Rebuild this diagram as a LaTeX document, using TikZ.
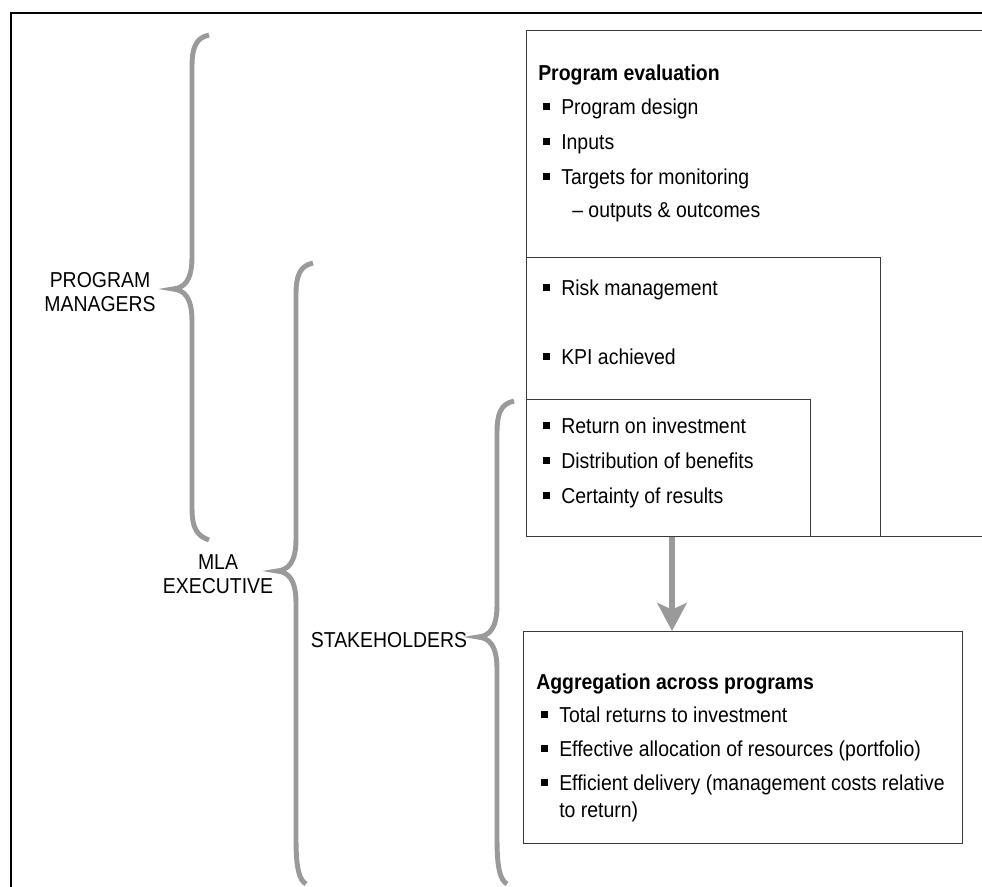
\documentclass[tikz,border=0pt]{standalone}
\usepackage{fontspec}
\setmainfont{Liberation Sans}[FakeStretch=0.9]
\usetikzlibrary{arrows.meta}
\definecolor{bracegray}{HTML}{9A9A9A}
\definecolor{edgegray}{HTML}{3A3A3A}
\tikzset{
  panel/.style={draw=edgegray, line width=1.1pt, inner sep=0pt, anchor=north west},
  txt/.style={inner sep=0pt, anchor=base west, font=\fontsize{16.2pt}{19pt}\selectfont},
  head/.style={inner sep=0pt, anchor=base west, font=\fontsize{16.2pt}{19pt}\selectfont\bfseries},
  lbl/.style={inner sep=0pt, align=center, font=\fontsize{16.2pt}{18.5pt}\selectfont},
  bracket/.style={draw=bracegray, line width=3.7pt},
  flow/.style={draw=bracegray, line width=4.5pt, -{Stealth[length=21pt,width=22pt,inset=5pt]}},
}
% square bullet followed by the item text
\newcommand{\bul}[1]{\makebox[13.5pt][l]{\rule[3.1pt]{5pt}{5pt}}#1}
% curly brace: #1 x of stem, #2 top end, #3 tip, #4 bottom end, #5 x-offset of bottom end, #6 length of bottom curl
\newcommand{\curlybrace}[6]{%
  \draw[bracket] (#1+17,#2) .. controls (#1+3,#2+3) and (#1,#2+14) .. (#1,#2+32)
    -- (#1,#3-32) .. controls (#1,#3-8) and (#1-8,#3-1) .. (#1-19,#3)
    .. controls (#1-8,#3+1) and (#1,#3+8) .. (#1,#3+32)
    -- (#1,#4-#6) .. controls (#1,#4-#6/3) and (#1+#5/3,#4-4) .. (#1+#5,#4);}
\begin{document}
\begin{tikzpicture}[x=0.75pt,y=-0.75pt]
\useasboundingbox (0,0) rectangle (982,886);
\clip (0,0) rectangle (982,886);

% outer frame (left and top edges)
\draw[black, line width=1.1pt] (11,890) -- (11,13) -- (990,13);

% nested evaluation panels
\node[panel, minimum width=355.5pt, minimum height=379.5pt] (evalbox) at (526,30) {};
\node[panel, minimum width=265.5pt, minimum height=209.25pt] (riskbox) at (526,257) {};
\node[panel, minimum width=213pt, minimum height=102.75pt] (retbox) at (526,399) {};
\node[panel, minimum width=329.25pt, minimum height=159pt] (aggbox) at (523,631) {};

% program evaluation
\node[head] (h1) at (538,80) {Program evaluation};
\node[txt] (e1) at (543,114) {\bul{Program design}};
\node[txt] (e2) at (543,149) {\bul{Inputs}};
\node[txt] (e3) at (543,184) {\bul{Targets for monitoring}};
\node[txt] (e4) at (572,217) {– outputs \& outcomes};

% risk / KPI
\node[txt] (r1) at (543,295) {\bul{Risk management}};
\node[txt] (r2) at (543,364) {\bul{KPI achieved}};

% returns
\node[txt] (s1) at (543,433) {\bul{Return on investment}};
\node[txt] (s2) at (543,468) {\bul{Distribution of benefits}};
\node[txt] (s3) at (543,503) {\bul{Certainty of results}};

% aggregation
\node[head] (h2) at (536,689) {Aggregation across programs};
\node[txt] (a1) at (541,722) {\bul{Total returns to investment}};
\node[txt] (a2) at (541,756) {\bul{Effective allocation of resources (portfolio)}};
\node[txt] (a3) at (541,790) {\bul{Efficient delivery (management costs relative}};
\node[txt] (a4) at (559,817) {to return)};

% flow arrow
\coordinate (ax) at (672,0);
\draw[flow] (retbox.south -| ax) -- (aggbox.north -| ax);

% audience labels and braces
\node[lbl] (pm) at (100,292) {PROGRAM\\MANAGERS};
\node[lbl] (mla) at (218,574) {MLA\\EXECUTIVE};
\node[lbl] (stk) at (389,640) {STAKEHOLDERS};

\curlybrace{192}{35}{289}{540}{17}{32}
\curlybrace{296}{263}{571}{884}{10}{45}
\curlybrace{497}{401}{637}{884}{10}{45}
\end{tikzpicture}
\end{document}
